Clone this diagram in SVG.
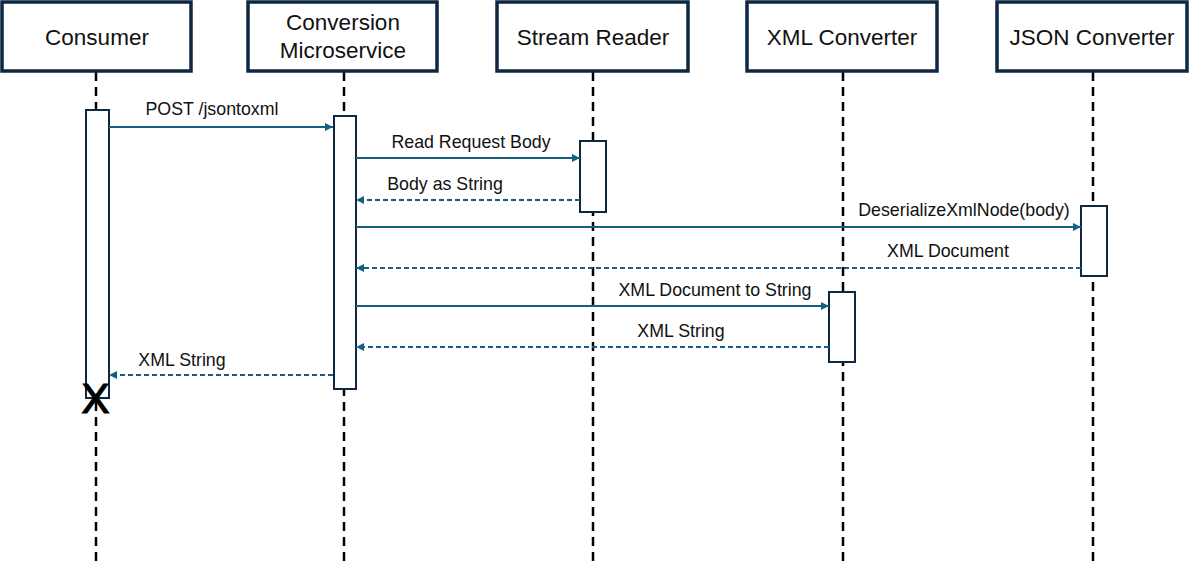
<svg xmlns="http://www.w3.org/2000/svg" width="1190" height="564" viewBox="0 0 1190 564">
<style>
.hdr{fill:#fff;stroke:#0E2841;stroke-width:3.5}
.ht{font-family:"Liberation Sans",Arial,sans-serif;font-size:22.5px;fill:#111;text-anchor:middle}
.life{stroke:#000;stroke-width:2.5;stroke-dasharray:9 6;fill:none}
.act{fill:#fff;stroke:#0E2841;stroke-width:2}
.msg{stroke:#156082;stroke-width:2;fill:none}
.ret{stroke:#156082;stroke-width:2;fill:none;stroke-dasharray:5 3}
.ml{font-family:"Liberation Sans",Arial,sans-serif;font-size:17.8px;fill:#111;text-anchor:middle}
</style>
<defs>
<marker id="ah" viewBox="0 0 10 10" refX="10" refY="5" markerWidth="9" markerHeight="8" markerUnits="userSpaceOnUse" orient="auto">
<path d="M0,0 L10,5 L0,10 Z" fill="#156082"/>
</marker>
</defs>
<rect width="1190" height="564" fill="#fff"/>
<g id="lifelines">
<line class="life" x1="96" y1="72" x2="96" y2="564"/>
<line class="life" x1="344" y1="72" x2="344" y2="564"/>
<line class="life" x1="593" y1="72" x2="593" y2="564"/>
<line class="life" x1="843" y1="72" x2="843" y2="564"/>
<line class="life" x1="1093" y1="72" x2="1093" y2="564"/>
</g>
<g id="consumer">
<rect class="hdr" x="2" y="2" width="189" height="69"/>
<text class="ht" x="97" y="45">Consumer</text>
<rect class="act" x="86" y="110" width="23" height="288"/>
</g>
<g id="conversion">
<rect class="hdr" x="248" y="2" width="189" height="69"/>
<text class="ht" x="343" y="30">Conversion</text>
<text class="ht" x="343" y="58">Microservice</text>
<rect class="act" x="334" y="116" width="22" height="273"/>
</g>
<g id="stream-reader">
<rect class="hdr" x="497" y="2" width="191" height="69"/>
<text class="ht" x="593" y="45">Stream Reader</text>
<rect class="act" x="580" y="141" width="26" height="71"/>
</g>
<g id="xml-converter">
<rect class="hdr" x="747" y="2" width="190" height="69"/>
<text class="ht" x="842" y="45">XML Converter</text>
<rect class="act" x="829" y="292" width="26" height="70"/>
</g>
<g id="json-converter">
<rect class="hdr" x="997" y="2" width="190" height="69"/>
<text class="ht" x="1092" y="45">JSON Converter</text>
<rect class="act" x="1081" y="206" width="26" height="70"/>
</g>
<g id="connectors">
<line class="msg" x1="109" y1="127" x2="333" y2="127" marker-end="url(#ah)"/>
<text class="ml" x="212" y="115">POST /jsontoxml</text>
<line class="msg" x1="356" y1="158" x2="580" y2="158" marker-end="url(#ah)"/>
<text class="ml" x="471" y="148">Read Request Body</text>
<line class="ret" x1="580" y1="200" x2="356" y2="200" marker-end="url(#ah)"/>
<text class="ml" x="445" y="190">Body as String</text>
<line class="msg" x1="356" y1="227" x2="1081" y2="227" marker-end="url(#ah)"/>
<text class="ml" x="964" y="216">DeserializeXmlNode(body)</text>
<line class="ret" x1="1081" y1="268" x2="356" y2="268" marker-end="url(#ah)"/>
<text class="ml" x="948" y="257">XML Document</text>
<line class="msg" x1="356" y1="306" x2="829" y2="306" marker-end="url(#ah)"/>
<text class="ml" x="715" y="296">XML Document to String</text>
<line class="ret" x1="829" y1="347" x2="356" y2="347" marker-end="url(#ah)"/>
<text class="ml" x="681" y="337">XML String</text>
<line class="ret" x1="333" y1="375" x2="109" y2="375" marker-end="url(#ah)"/>
<text class="ml" x="182" y="366">XML String</text>
</g>
<g id="destroy">
<text x="95.5" y="413" font-family="Liberation Sans,Arial,sans-serif" font-size="42" fill="#000" stroke="#000" stroke-width="1.2" text-anchor="middle">X</text>
</g>
</svg>
